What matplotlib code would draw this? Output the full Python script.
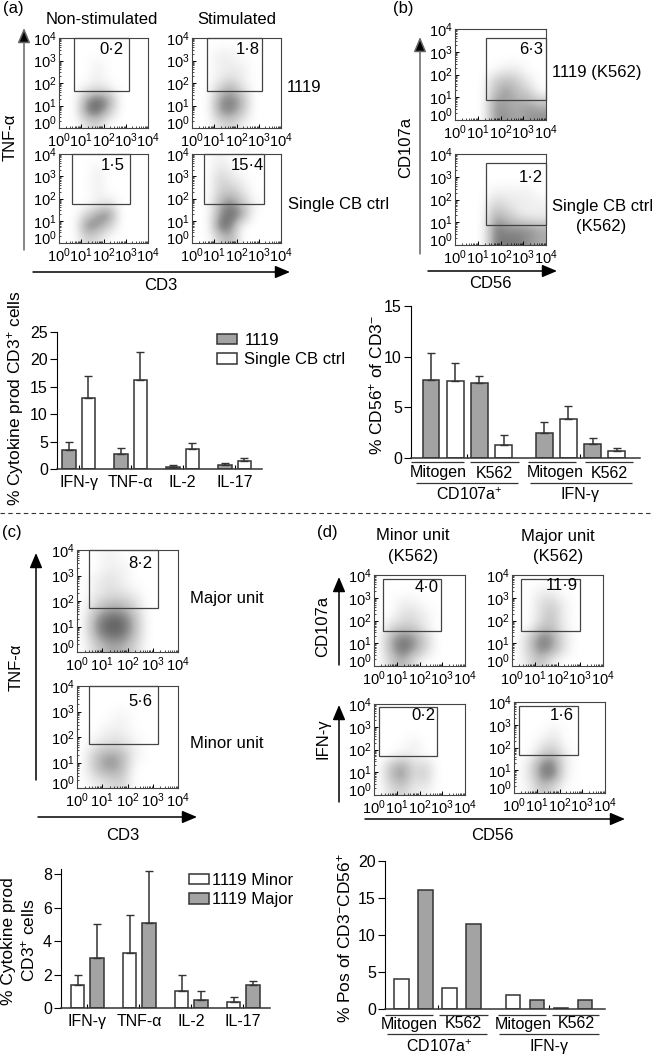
import numpy as np
import matplotlib
matplotlib.use('Agg')
import matplotlib.pyplot as plt
from matplotlib.colors import LinearSegmentedColormap
from matplotlib.patches import Patch, Rectangle
from matplotlib.transforms import ScaledTranslation

W, H = 652, 1058
GREY = '#a3a3a3'
EDGE = '#333333'

plt.rcParams['font.family'] = ['Liberation Sans', 'DejaVu Sans']
plt.rcParams['mathtext.fontset'] = 'custom'
plt.rcParams['mathtext.rm'] = 'Liberation Sans'
plt.rcParams['mathtext.default'] = 'regular'
plt.rcParams['font.size'] = 10.5

# flow plots: estimated dot density per half decade, top row is 10^3.5-10^4
dens_a1 = ['00000000', '00000000', '00010000', '00010000', '00121000', '00686000', '00784000', '00230000']
dens_a2 = ['00000000', '00110000', '00111000', '00121000', '00352000', '00675000', '00674000', '00231000']
dens_a3 = ['00000000', '00010000', '00010000', '00010000', '00012000', '00367000', '00763000', '00320000']
dens_a4 = ['00100000', '00210000', '00321000', '00342000', '00574100', '00686000', '00870000', '00350000']
dens_b1 = ['00000000', '00000000', '00000000', '00001100', '00034310', '00046430', '00065554', '00066566']
dens_b2 = ['00000000', '00000000', '00000000', '00011110', '00032111', '00054211', '00076665', '00077765']
dens_c1 = ['00100000', '00110000', '01210000', '01221000', '03553000', '06885000', '06885000', '03553000']
dens_c2 = ['00000000', '00000000', '00010000', '00110000', '01221000', '04651000', '04650000', '01230000']
dens_d1 = ['00000000', '00000000', '00110000', '00221000', '02331000', '05763000', '05863000', '03520000']
dens_d2 = ['00000000', '00110000', '00231000', '00241000', '00341000', '03762000', '03762000', '02410000']
dens_d3 = ['00000000', '00000000', '00000000', '00010000', '00110000', '04623000', '04623000', '02311000']
dens_d4 = ['00000000', '00000000', '00010000', '00120000', '00341000', '02771000', '02771000', '01420000']

# bar values, tops are the upper ends of the error bars
groups = ['IFN-γ', 'TNF-α', 'IL-2', 'IL-17']

a_1119 = [3.4, 2.7, 0.3, 0.75]
a_1119_top = [5.0, 3.9, 0.8, 1.15]
a_ctrl = [13.0, 16.3, 3.6, 1.4]
a_ctrl_top = [17.0, 21.3, 4.7, 1.95]

b_vals = [7.7, 7.55, 7.4, 1.3, 2.5, 3.8, 1.4, 0.7]
b_tops = [10.4, 9.4, 8.1, 2.3, 3.6, 5.1, 2.0, 1.0]
b_fill = [GREY, 'white', GREY, 'white', GREY, 'white', GREY, 'white']

c_minor = [1.4, 3.3, 1.0, 0.35]
c_minor_top = [1.95, 5.55, 2.0, 0.63]
c_major = [3.0, 5.05, 0.5, 1.4]
c_major_top = [5.0, 8.2, 1.03, 1.6]

d_vals = [4.0, 16.05, 2.9, 11.5, 1.9, 1.2, 0.15, 1.2]
d_fill = ['white', GREY, 'white', GREY, 'white', GREY, 'white', GREY]

fig = plt.figure(figsize=(W / 100, H / 100), dpi=100)
cmap = LinearSegmentedColormap.from_list('dots', ['white', '#b8b8b8', '#4a4a4a'])

# overlay in pixel coordinates for labels, gates and arrows
ov = fig.add_axes([0, 0, 1, 1], zorder=5)
ov.set_xlim(0, W)
ov.set_ylim(H, 0)
ov.axis('off')
ov.patch.set_alpha(0)


def add_ax(x0, y0, x1, y1):
    return fig.add_axes([x0 / W, 1 - y1 / H, (x1 - x0) / W, (y1 - y0) / H])


def txt(x, y, s, ha='center', rot=0, size=None):
    ov.text(x, y, s, ha=ha, va='center', rotation=rot, fontsize=size)


def arrow(x0, y0, x1, y1, shaft='black'):
    ov.annotate('', xy=(x1, y1), xytext=(x0, y0),
                arrowprops=dict(arrowstyle='-|>,head_length=0.9,head_width=0.38', mutation_scale=10,
                                ec=shaft, fc='black', lw=1.1, shrinkA=0, shrinkB=0))


def flow(box, dens, gate, pct, pct_xy):
    ax = add_ax(*box)
    grid = np.array([[int(c) for c in row] for row in dens])
    ax.imshow(grid, cmap=cmap, vmin=0, vmax=9, extent=(0, 4, 0, 4), aspect='auto', interpolation='bicubic')
    ax.set_xticks(range(5))
    ax.set_yticks(range(5))
    ax.set_xticklabels([f'$10^{i}$' for i in range(5)])
    ax.set_yticklabels([f'$10^{i}$' for i in range(5)])
    minor = [d + np.log10(m) for d in range(4) for m in range(2, 10)]
    ax.set_xticks(minor, minor=True)
    ax.set_yticks(minor, minor=True)
    ax.tick_params(which='major', direction='in', length=3, width=0.7, labelsize=10.5)
    ax.tick_params(axis='x', which='major', pad=2.2)
    ax.tick_params(axis='y', which='major', pad=1.5)
    ax.tick_params(which='minor', direction='in', length=1.5, width=0.5)
    # lowest y label sits a bit above the corner, clear of the x labels
    lab = ax.get_yticklabels()[0]
    lab.set_transform(lab.get_transform() + ScaledTranslation(0, 4.5 / 72, fig.dpi_scale_trans))
    for s in ax.spines.values():
        s.set_linewidth(0.8)
        s.set_color('#444444')
    ov.add_patch(Rectangle((gate[0], gate[1]), gate[2] - gate[0], gate[3] - gate[1],
                           fill=False, ec='#444444', lw=0.9))
    txt(pct_xy[0], pct_xy[1], pct, size=12)


def bars(ax, x, vals, tops, fill, width):
    ax.bar(x, vals, width=width, color=fill, edgecolor=EDGE, linewidth=1.1)
    if tops is not None:
        up = np.array(tops) - np.array(vals)
        ax.errorbar(x, vals, yerr=[np.zeros(len(up)), up], fmt='none', ecolor=EDGE,
                    elinewidth=1.1, capsize=3, capthick=1)


def style_bar(ax, yticks):
    ax.spines['top'].set_visible(False)
    ax.spines['right'].set_visible(False)
    ax.spines['bottom'].set_linewidth(1.1)
    ax.spines['bottom'].set_color('#333333')
    ax.set_yticks(yticks)
    ax.tick_params(axis='y', length=5, width=0.8, labelsize=11.5, pad=1.5)
    ax.tick_params(axis='x', direction='in', length=3, width=0.8, labelsize=11.5, pad=4)
    ax.patch.set_alpha(0)


def bracket(x0, x1, y):
    ov.plot([x0, x1], [y, y], color='#333333', lw=0.9, solid_capstyle='butt')


# (a)
txt(3, 9, '(a)', ha='left', size=12)
txt(102, 19, 'Non-stimulated', size=12)
txt(237, 19, 'Stimulated', size=12)
flow((59, 38, 148, 128), dens_a1, (74, 38, 129, 91), '0·2', (111, 50))
flow((192, 38, 281, 128), dens_a2, (207, 38, 262, 91), '1·8', (248, 50))
flow((59, 154, 148, 243), dens_a3, (72, 154, 130, 204), '1·5', (113, 166))
flow((192, 154, 281, 243), dens_a4, (204, 154, 264, 204), '15·4', (247, 166))
txt(287, 87, '1119', ha='left', size=12)
txt(288, 204, 'Single CB ctrl', ha='left', size=12)
txt(10, 137, 'TNF-α', rot=90, size=12)
txt(161, 285, 'CD3', size=12)
arrow(24, 250, 24, 28, shaft='#666666')
arrow(33, 272, 290, 272)

# (b)
txt(393, 9, '(b)', ha='left', size=12)
flow((455, 29, 546, 120), dens_b1, (486, 38, 546, 100), '6·3', (531, 49))
flow((455, 154, 546, 245), dens_b2, (486, 163, 546, 225), '1·2', (531, 177))
txt(552, 72, '1119 (K562)', ha='left', size=12)
txt(552, 206, 'Single CB ctrl', ha='left', size=12)
txt(601, 227, '(K562)', size=12)
txt(406, 147, 'CD107a', rot=90, size=12)
txt(490, 284, 'CD56', size=12)
arrow(420, 254, 420, 37, shaft='#666666')
arrow(428, 271, 557, 271)

# bar chart under (a)
ax = add_ax(57, 332, 262, 469)
x = np.arange(4)
bars(ax, x - 0.186, a_1119, a_1119_top, GREY, 0.256)
bars(ax, x + 0.186, a_ctrl, a_ctrl_top, 'white', 0.256)
ax.set_xlim(-0.417, 3.525)
ax.set_ylim(0, 25)
ax.set_xticks(x)
ax.set_xticklabels(groups)
style_bar(ax, range(0, 30, 5))
txt(16, 398, '% Cytokine prod CD3$^{+}$ cells', rot=90, size=12.5)
leg = ov.legend(handles=[Patch(fc=GREY, ec=EDGE, lw=1.1, label='1119'),
                         Patch(fc='white', ec=EDGE, lw=1.1, label='Single CB ctrl')],
                loc='upper left', bbox_to_anchor=(217 / W, 1 - 333 / H), frameon=False, fontsize=12,
                handlelength=1.2, handleheight=0.6, handletextpad=0.45, labelspacing=0.25,
                borderpad=0, borderaxespad=0)
ov.add_artist(leg)

# bar chart under (b)
ax = add_ax(411, 306, 640, 458)
x = np.arange(8) + np.array([0, 0, 0, 0, 0.68, 0.68, 0.68, 0.68])
bars(ax, x, b_vals, b_tops, b_fill, 0.69)
ax.set_xlim(-0.826, 8.64)
ax.set_ylim(0, 15)
ax.set_xticks([x[:2].mean() + 1, x[4:6].mean() + 1])
ax.set_xticklabels([])
style_bar(ax, [0, 5, 10, 15])
txt(376, 385, '% CD56$^{+}$ of CD3$^{-}$', rot=90, size=12.5)
for x0, x1 in [(411, 464), (470, 519), (528, 576), (585, 633)]:
    bracket(x0, x1, 462)
txt(438, 473, 'Mitogen', size=11.5)
txt(494, 473, 'K562', size=11.5)
txt(555, 473, 'Mitogen', size=11.5)
txt(609, 473, 'K562', size=11.5)
bracket(416, 518, 483)
bracket(530, 632, 483)
txt(469, 495, 'CD107a$^{+}$', size=11.5)
txt(580, 495, 'IFN-γ', size=11.5)

# divider
ov.plot([0, W], [513, 513], color='#333333', lw=0.8, ls=(0, (4, 3)))

# (c)
txt(2, 533, '(c)', ha='left', size=12)
flow((77, 550, 178, 652), dens_c1, (89, 550, 158, 608), '8·2', (140, 564))
flow((77, 686, 178, 788), dens_c2, (89, 686, 158, 744), '5·6', (140, 702))
txt(190, 598, 'Major unit', ha='left', size=12)
txt(190, 744, 'Minor unit', ha='left', size=12)
txt(16, 667, 'TNF-α', rot=90, size=12)
txt(123, 835, 'CD3', size=12)
arrow(36, 780, 36, 553)
arrow(38, 817, 197, 817)

# (d)
txt(317, 533, '(d)', ha='left', size=12)
txt(413, 536, 'Minor unit', size=12)
txt(413, 556, '(K562)', size=12)
txt(558, 536, 'Major unit', size=12)
txt(558, 556, '(K562)', size=12)
flow((374, 575, 465, 666), dens_d1, (383, 579, 441, 631), '4·0', (427, 588))
flow((512, 575, 603, 666), dens_d2, (521, 579, 580, 631), '11·9', (562, 586))
flow((374, 704, 465, 795), dens_d3, (379, 707, 437, 756), '0·2', (423, 716))
flow((514, 702, 605, 793), dens_d4, (519, 706, 578, 755), '1·6', (562, 716))
txt(323, 626, 'CD107a', rot=90, size=12)
txt(323, 739, 'IFN-γ', rot=90, size=12)
txt(492, 835, 'CD56', size=12)
arrow(339, 665, 339, 577)
arrow(339, 802, 339, 705)
arrow(365, 819, 625, 819)

# bar chart under (c)
ax = add_ax(61, 869, 270, 1008)
x = np.arange(4)
bars(ax, x - 0.186, c_minor, c_minor_top, 'white', 0.256)
bars(ax, x + 0.186, c_major, c_major_top, GREY, 0.256)
ax.set_xlim(-0.504, 3.515)
ax.set_ylim(0, 8.3)
ax.set_xticks(x)
ax.set_xticklabels(groups)
style_bar(ax, range(0, 10, 2))
txt(9, 941, '% Cytokine prod', rot=90, size=12.5)
txt(28, 940, 'CD3$^{+}$ cells', rot=90, size=12.5)
ov.legend(handles=[Patch(fc='white', ec=EDGE, lw=1.1, label='1119 Minor'),
                   Patch(fc=GREY, ec=EDGE, lw=1.1, label='1119 Major')],
          loc='upper left', bbox_to_anchor=(189 / W, 1 - 873 / H), frameon=False, fontsize=12,
          handlelength=1.2, handleheight=0.6, handletextpad=0.2, labelspacing=0.25,
          borderpad=0, borderaxespad=0)

# bar chart under (d)
ax = add_ax(385, 861, 605, 1009)
x = np.arange(8) + np.array([0, 0, 0, 0, 0.65, 0.65, 0.65, 0.65])
bars(ax, x, d_vals, None, d_fill, 0.6)
ax.set_xlim(-0.69, 8.48)
ax.set_ylim(0, 20)
ax.set_xticks([x[:2].mean() + 1, x[4:6].mean() + 1])
ax.set_xticklabels([])
style_bar(ax, [0, 5, 10, 15, 20])
txt(344, 938, '% Pos of CD3$^{-}$CD56$^{+}$', rot=90, size=12.5)
for x0, x1 in [(385, 433), (439, 488), (498, 546), (552, 599)]:
    bracket(x0, x1, 1015)
txt(409, 1024, 'Mitogen', size=11.5)
txt(463, 1024, 'K562', size=11.5)
txt(523, 1024, 'Mitogen', size=11.5)
txt(576, 1024, 'K562', size=11.5)
bracket(387, 487, 1034)
bracket(499, 599, 1034)
txt(439, 1047, 'CD107a$^{+}$', size=11.5)
txt(549, 1047, 'IFN-γ', size=11.5)

fig.savefig('out.png', dpi=100)
